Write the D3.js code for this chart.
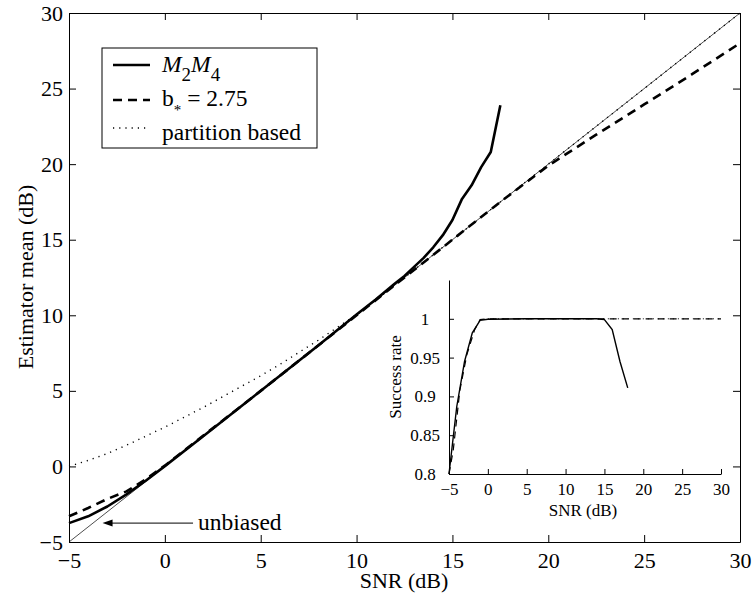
<!DOCTYPE html>
<html>
<head>
<meta charset="utf-8">
<script src="https://cdn.jsdelivr.net/npm/d3@7"></script>
<style>
  body { margin: 0; background: #fff; }
  svg { display: block; font-family: "Liberation Serif", "Times New Roman", serif; }
  .axis path, .axis line { stroke: #000; stroke-width: 1; }
  .axis text { fill: #000; }
</style>
</head>
<body>
<svg width="752" height="594"></svg>
<script>
// main plot data (SNR dB -> estimator mean dB)
const unbiasedX = [-5, 30];
const unbiasedY = [-5, 30];

const m2m4X = [-5, -4, -3, -2, -1, 0, 2, 4, 6, 8, 10, 11, 12, 12.5, 13, 13.5, 14, 14.5, 15, 15.5, 16, 16.5, 17, 17.5];
const m2m4Y = [-3.75, -3.3, -2.65, -1.85, -0.95, 0.02, 2.0, 4.0, 6.0, 8.0, 10.05, 11.05, 12.1, 12.6, 13.2, 13.8, 14.5, 15.3, 16.3, 17.7, 18.6, 19.8, 20.8, 23.9];

const bstarX = [-5, -4, -3, -2, -1, 0, 5, 10, 15, 17.5, 20, 22.5, 25, 27.5, 30];
const bstarY = [-3.3, -2.75, -2.15, -1.65, -0.85, 0.05, 5, 10, 15, 17.5, 19.9, 21.95, 23.95, 25.95, 28.0];

const partX = [-5, -4, -3, -2, -1, 0, 1, 2, 3, 4, 5, 6, 7, 8, 9, 10, 11, 12, 15, 20, 25, 30];
const partY = [0, 0.4, 0.85, 1.4, 2.0, 2.6, 3.25, 3.9, 4.6, 5.3, 6.0, 6.75, 7.55, 8.35, 9.2, 10.05, 11.0, 12.0, 15, 20, 25, 30];

// inset data (success rate)
const srM2m4X = [-5, -4, -3, -2, -1, 0, 5, 10, 14, 15, 16, 17, 18];
const srM2m4Y = [0.8, 0.887, 0.945, 0.982, 0.998, 0.9995, 1, 1, 1, 0.999, 0.986, 0.945, 0.911];

const srBstarX = [-5, -4.45, -3.6, -2.7, -1.7, -1, 0, 5, 10, 15, 20, 25, 30];
const srBstarY = [0.8, 0.831, 0.908, 0.954, 0.986, 0.999, 1, 1, 1, 1, 1, 1, 1];

const srPartX = [0, 5, 10, 15, 20, 25, 30];
const srPartY = [1, 1, 1, 1, 1, 1, 1];

const mainTicks = [-5, 0, 5, 10, 15, 20, 25, 30];
const insetXTicks = [-5, 0, 5, 10, 15, 20, 25, 30];
const insetYTicks = [0.8, 0.85, 0.9, 0.95, 1];

const svg = d3.select("svg");
const pts = (xs, ys) => xs.map((v, i) => [v, ys[i]]);

// ---------- main axes ----------
const x = d3.scaleLinear().domain([-5, 30]).range([69, 740]);
const y = d3.scaleLinear().domain([-5, 30]).range([542, 13]);

svg.append("g").attr("class", "axis").attr("transform", "translate(0,542)")
  .call(d3.axisBottom(x).tickValues(mainTicks).tickSizeInner(-7).tickSizeOuter(0).tickPadding(10))
  .call(g => g.selectAll("text").attr("font-size", 22).attr("font-family", "Liberation Serif"));
svg.append("g").attr("class", "axis").attr("transform", "translate(0,13)")
  .call(d3.axisTop(x).tickValues(mainTicks).tickSizeInner(-7).tickSizeOuter(0).tickFormat(""));
svg.append("g").attr("class", "axis").attr("transform", "translate(69,0)")
  .call(d3.axisLeft(y).tickValues(mainTicks).tickSizeInner(-7).tickSizeOuter(0).tickPadding(6))
  .call(g => g.selectAll("text").attr("font-size", 22).attr("font-family", "Liberation Serif"));
svg.append("g").attr("class", "axis").attr("transform", "translate(740,0)")
  .call(d3.axisRight(y).tickValues(mainTicks).tickSizeInner(-7).tickSizeOuter(0).tickFormat(""));

svg.append("text").attr("x", 404).attr("y", 588).attr("text-anchor", "middle")
  .attr("font-size", 22).text("SNR (dB)");
svg.append("text").attr("transform", "translate(33,277) rotate(-90)").attr("text-anchor", "middle")
  .attr("font-size", 22).text("Estimator mean (dB)");

const line = d3.line().x(d => x(d[0])).y(d => y(d[1]));

svg.append("path").datum(pts(unbiasedX, unbiasedY)).attr("d", line)
  .attr("fill", "none").attr("stroke", "#000").attr("stroke-width", 0.7);
svg.append("path").datum(pts(partX, partY)).attr("d", line)
  .attr("fill", "none").attr("stroke", "#000").attr("stroke-width", 1.4).attr("stroke-dasharray", "1.2,5");
svg.append("path").datum(pts(bstarX, bstarY)).attr("d", line)
  .attr("fill", "none").attr("stroke", "#000").attr("stroke-width", 2.6).attr("stroke-dasharray", "9,6");
svg.append("path").datum(pts(m2m4X, m2m4Y)).attr("d", line)
  .attr("fill", "none").attr("stroke", "#000").attr("stroke-width", 2.6).attr("stroke-linejoin", "round");

// "unbiased" arrow annotation
const arrowY = -3.75, arrowTip = -3.25, arrowTail = 1.47;
svg.append("line").attr("x1", x(arrowTip) + 8).attr("x2", x(arrowTail))
  .attr("y1", y(arrowY)).attr("y2", y(arrowY)).attr("stroke", "#000").attr("stroke-width", 1);
svg.append("path")
  .attr("d", `M${x(arrowTip)},${y(arrowY)} l10,-3.5 l0,7 z`).attr("fill", "#000");
svg.append("text").attr("x", x(arrowTail) + 5).attr("y", y(arrowY) + 7)
  .attr("font-size", 23.5).text("unbiased");

// legend
const lg = svg.append("g");
lg.append("rect").attr("x", 102).attr("y", 48).attr("width", 215).attr("height", 100)
  .attr("fill", "#fff").attr("stroke", "#000").attr("stroke-width", 1);
lg.append("line").attr("x1", 113).attr("x2", 150).attr("y1", 65).attr("y2", 65)
  .attr("stroke", "#000").attr("stroke-width", 2.6);
lg.append("line").attr("x1", 113).attr("x2", 150).attr("y1", 100).attr("y2", 100)
  .attr("stroke", "#000").attr("stroke-width", 2.6).attr("stroke-dasharray", "9,6");
lg.append("line").attr("x1", 113).attr("x2", 150).attr("y1", 128).attr("y2", 128)
  .attr("stroke", "#000").attr("stroke-width", 1.4).attr("stroke-dasharray", "1.2,5");

const t1 = lg.append("text").attr("x", 162).attr("y", 72).attr("font-size", 23.5);
t1.append("tspan").attr("font-style", "italic").text("M");
t1.append("tspan").attr("dy", 9).attr("font-size", 19).text("2");
t1.append("tspan").attr("dy", -9).attr("font-style", "italic").text("M");
t1.append("tspan").attr("dy", 9).attr("font-size", 19).text("4");

const t2 = lg.append("text").attr("x", 162).attr("y", 106).attr("font-size", 23.5);
t2.append("tspan").text("b");
t2.append("tspan").attr("dy", 9).attr("font-size", 15).text("*");
t2.append("tspan").attr("dy", -9).text(" = 2.75");

lg.append("text").attr("x", 162).attr("y", 140).attr("font-size", 23.5).text("partition based");

// ---------- inset ----------
const ix = d3.scaleLinear().domain([-5, 30]).range([449, 721]);
const iy = d3.scaleLinear().domain([0.8, 1.05]).range([474, 280]);

svg.append("g").attr("class", "axis").attr("transform", "translate(0,474)")
  .call(d3.axisBottom(ix).tickValues(insetXTicks).tickSizeInner(-5).tickSizeOuter(0).tickPadding(9))
  .call(g => g.selectAll("text").attr("font-size", 17).attr("font-family", "Liberation Serif"));
svg.append("g").attr("class", "axis").attr("transform", "translate(449,0)")
  .call(d3.axisLeft(iy).tickValues(insetYTicks).tickSizeInner(-5).tickSizeOuter(0)
    .tickFormat(d => String(+d.toFixed(2))))
  .call(g => g.selectAll("text").attr("font-size", 17).attr("font-family", "Liberation Serif")
    .attr("text-anchor", "middle").attr("x", -24));

svg.append("text").attr("x", 583).attr("y", 516).attr("text-anchor", "middle")
  .attr("font-size", 17).text("SNR (dB)");
svg.append("text").attr("transform", "translate(401,377) rotate(-90)").attr("text-anchor", "middle")
  .attr("font-size", 17).text("Success rate");

const iline = d3.line().x(d => ix(d[0])).y(d => iy(d[1]));
svg.append("path").datum(pts(srPartX, srPartY)).attr("d", iline)
  .attr("fill", "none").attr("stroke", "#000").attr("stroke-width", 1).attr("stroke-dasharray", "1,4");
svg.append("path").datum(pts(srBstarX, srBstarY)).attr("d", iline)
  .attr("fill", "none").attr("stroke", "#000").attr("stroke-width", 1.2).attr("stroke-dasharray", "7,5");
svg.append("path").datum(pts(srM2m4X, srM2m4Y)).attr("d", iline)
  .attr("fill", "none").attr("stroke", "#000").attr("stroke-width", 1.4);
</script>
</body>
</html>
